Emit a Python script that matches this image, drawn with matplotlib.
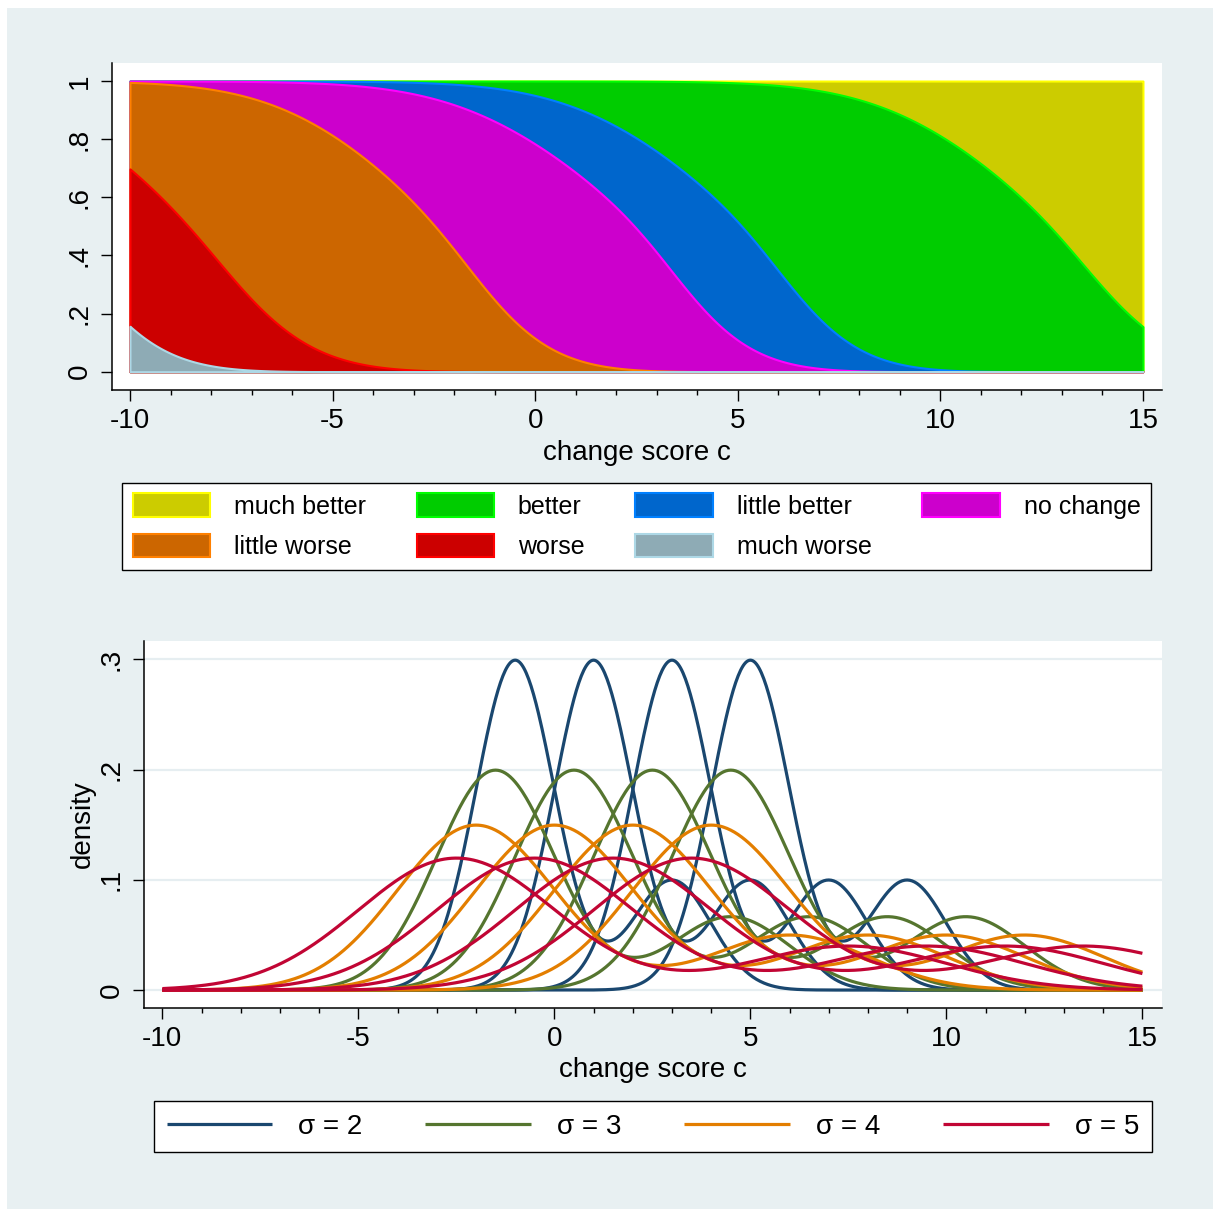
import math
import numpy as np
import matplotlib
matplotlib.use("Agg")
import matplotlib.pyplot as plt
from matplotlib.patches import Rectangle
from matplotlib.ticker import MultipleLocator

plt.rcParams['font.family'] = ['Liberation Sans', 'DejaVu Sans']

# ---------------- data ----------------
categories = ["much worse", "worse", "little worse", "no change",
              "little better", "better", "much better"]
thresholds = [-12.1, -8.56, -2.47, 2.45, 5.1, 12.7]   # 50% points of cumulative boundaries
scale_upper = [2.9, 2.9, 2.9, 3.2, 3.1, 3.1]           # spread where boundary > .5
scale_lower = [2.0, 2.2, 2.0, 2.0, 2.0, 2.2]           # spread where boundary < .5
scale_blend = 1.8                                       # width of smooth change between them
fill_colors = ["#8eabb5", "#cc0000", "#cc6600", "#cc00cc", "#0066cc", "#00cc00", "#cccc00"]
edge_colors = ["#add8e6", "#ff0000", "#ff8000", "#ff00ff", "#0080ff", "#00ff00", "#ffff00"]
legend_rows = [["much better", "better", "little better", "no change"],
               ["little worse", "worse", "much worse"]]

sigmas = [2, 3, 4, 5]
centers = [0, 2, 4, 6]
mix_weights = [0.75, 0.25]
mix_offsets = [-0.5, 1.5]          # component mean = center + offset * sigma
component_sd_ratio = 0.5           # component sd = sigma * ratio
line_colors = ["#1a476f", "#55752f", "#e37e00", "#c10534"]
sigma_labels = ["σ = 2", "σ = 3", "σ = 4", "σ = 5"]

x_min, x_max = -10, 15
top_yticks = [0, 0.2, 0.4, 0.6, 0.8, 1.0]
top_yticklabels = ["0", ".2", ".4", ".6", ".8", "1"]
bot_yticks = [0, 0.1, 0.2, 0.3]
bot_yticklabels = ["0", ".1", ".2", ".3"]
xticks = [-10, -5, 0, 5, 10, 15]

# ---------------- helpers ----------------
_erf = np.frompyfunc(math.erf, 1, 1)
def norm_cdf(z):
    return 0.5 * (1.0 + _erf(np.asarray(z, dtype=float) / math.sqrt(2.0)).astype(float))

def norm_pdf(x, m, s):
    return np.exp(-0.5 * ((x - m) / s) ** 2) / (s * math.sqrt(2 * math.pi))

def boundary(c, t, s_up, s_lo):
    u = t - c
    s = 0.5 * (s_up + s_lo) + 0.5 * (s_up - s_lo) * np.tanh(u / scale_blend)
    return norm_cdf(u / s)

W, H = 1213, 1209
fig = plt.figure(figsize=(W / 100, H / 100), dpi=100, facecolor="white")
fig.patches.append(Rectangle((7 / W, 0), 1 - 7 / W, 1 - 8 / H, transform=fig.transFigure,
                             facecolor="#e8f0f2", edgecolor="none", zorder=-10))

def px_axes(l, t, r, b):
    return fig.add_axes([l / W, 1 - b / H, (r - l) / W, (b - t) / H])

FS = 20
LFS = 18

def style_axes(ax):
    for s in ["top", "right"]:
        ax.spines[s].set_visible(False)
    for s in ["left", "bottom"]:
        ax.spines[s].set_linewidth(1.1)
        ax.spines[s].set_color("black")
    ax.set_facecolor("white")
    ax.tick_params(axis="both", which="major", direction="out", length=8, width=1.0,
                   labelsize=FS, color="black")
    ax.tick_params(axis="x", which="minor", direction="out", length=3.5, width=1.0)
    ax.tick_params(axis="y", which="minor", left=False)
    ax.xaxis.set_minor_locator(MultipleLocator(1))
    ax.set_xticks(xticks)
    ax.set_xticklabels([str(v) for v in xticks])
    ax.tick_params(axis="x", pad=5)

# ---------------- top panel ----------------
ax1 = px_axes(112, 63, 1162, 390)
style_axes(ax1)
c = np.linspace(x_min, x_max, 801)
uppers = [boundary(c, t, su, sl) for t, su, sl in zip(thresholds, scale_upper, scale_lower)]
uppers.append(np.ones_like(c))
handles = {}
for k in range(len(categories) - 1, -1, -1):
    h = ax1.fill_between(c, 0, uppers[k], facecolor=fill_colors[k], edgecolor=edge_colors[k],
                         linewidth=1.5, label=categories[k])
    handles[categories[k]] = h
ax1.set_xlim(-10.444, 15.47)
ax1.set_ylim(-0.063, 1.062)
ax1.set_yticks(top_yticks)
ax1.set_yticklabels(top_yticklabels, rotation=90, va="center")
ax1.tick_params(axis="y", pad=6)
ax1.set_xlabel("change score c", fontsize=FS, labelpad=4)

ncol = 4
order = []
for col in range(ncol):
    for row in legend_rows:
        if col < len(row):
            order.append(row[col])
leg1 = fig.legend([handles[n] for n in order], order, loc="upper left",
                  bbox_to_anchor=(122 / W, 1 - 573 / H, (1151 - 122) / W, 90 / H),
                  mode="expand", ncol=ncol, fontsize=LFS, frameon=True, fancybox=False,
                  edgecolor="black", framealpha=1, handlelength=3.1, handleheight=1.05,
                  handletextpad=0.95, columnspacing=2.0, labelspacing=0.62, borderpad=0.42,
                  borderaxespad=0)
leg1.get_frame().set_linewidth(1.0)

# ---------------- bottom panel ----------------
ax2 = px_axes(144.3, 640.7, 1162, 1007.7)
style_axes(ax2)
x = np.linspace(x_min, x_max, 801)
line_handles = []
for i, sg in enumerate(sigmas):
    sd = sg * component_sd_ratio
    for j, b in enumerate(centers):
        y = sum(w * norm_pdf(x, b + off * sg, sd) for w, off in zip(mix_weights, mix_offsets))
        ln, = ax2.plot(x, y, color=line_colors[i], linewidth=2.3, solid_capstyle="butt",
                       zorder=3)
        if j == 0:
            line_handles.append(ln)
ax2.set_xlim(-10.46, 15.5)
ax2.set_ylim(-0.016, 0.3169)
ax2.set_yticks(bot_yticks)
ax2.set_yticklabels(bot_yticklabels, rotation=90, va="center")
ax2.tick_params(axis="y", pad=6)
ax2.yaxis.grid(True, color="#e6eef1", linewidth=1.6, zorder=0)
ax2.set_axisbelow(True)
ax2.set_xlabel("change score c", fontsize=FS, labelpad=4)
ax2.set_ylabel("density", fontsize=FS, labelpad=2)

leg2 = fig.legend(line_handles, sigma_labels, loc="upper left",
                  bbox_to_anchor=(154 / W, 1 - 1152 / H, (1152 - 154) / W, 51 / H),
                  mode="expand", ncol=4, fontsize=LFS + 2, frameon=True, fancybox=False,
                  edgecolor="black", framealpha=1, handlelength=3.8,
                  handletextpad=0.95, columnspacing=2.2, borderpad=0.45, borderaxespad=0)
leg2.get_frame().set_linewidth(1.0)

fig.savefig("out.png", dpi=100, facecolor=fig.get_facecolor())
